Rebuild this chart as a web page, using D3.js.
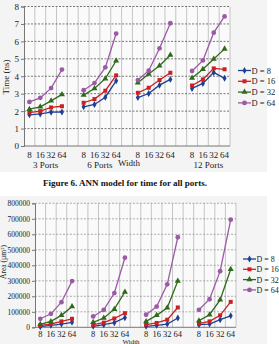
<!DOCTYPE html>
<html>
<head>
<meta charset="utf-8">
<script src="https://cdn.jsdelivr.net/npm/d3@7"></script>
<style>
  body { margin: 0; background: #fff; }
  svg { display: block; }
  svg text { font-family: "Liberation Serif", "Times New Roman", serif; }
</style>
</head>
<body>
<script>
var width = 279,
    height = 344;

// categories
var widths = ["8", "16", "32", "64"];
var ports = ["3 Ports", "6 Ports", "9 Ports", "12 Ports"];
var seriesNames = ["D = 8", "D = 16", "D = 32", "D = 64"];
var timeTicks = [0, 1, 2, 3, 4, 5, 6, 7, 8];
var areaTicks = [0, 100000, 200000, 300000, 400000, 500000, 600000, 700000, 800000];

// time (ns), 4 groups x 4 widths each
var timeD8  = [1.79, 1.84, 1.94, 1.95,  2.25, 2.38, 2.80, 3.74,  2.78, 3.01, 3.49, 3.82,  3.30, 3.59, 4.22, 3.88];
var timeD16 = [1.92, 2.00, 2.21, 2.28,  2.48, 2.69, 3.17, 4.05,  3.05, 3.34, 3.78, 4.20,  3.47, 3.82, 4.45, 4.40];
var timeD32 = [2.11, 2.25, 2.59, 2.96,  2.92, 3.30, 3.86, 4.89,  3.63, 4.13, 4.60, 5.22,  3.90, 4.40, 4.99, 5.57];
var timeD64 = [2.53, 2.76, 3.32, 4.38,  3.20, 3.61, 4.51, 6.45,  3.78, 4.32, 5.60, 7.04,  4.30, 4.91, 6.50, 7.43];

// area (um^2)
var areaD8  = [4000, 13000, 21000, 32000,  6000, 17000, 30000, 62000,  6000, 13000, 21000, 60000,  17000, 21000, 49000, 74000];
var areaD16 = [13000, 21000, 38000, 55000,  17000, 30000, 57000, 91000,  17000, 28000, 49000, 128000,  23000, 38000, 77000, 164000];
var areaD32 = [19000, 38000, 77000, 134000,  32000, 60000, 117000, 228000,  38000, 77000, 126000, 298000,  43000, 81000, 177000, 374000];
var areaD64 = [55000, 87000, 162000, 298000,  70000, 113000, 221000, 449000,  81000, 134000, 277000, 581000,  113000, 181000, 362000, 694000];

var colors = ["#1d3f95", "#cc1f1f", "#2f6a1c", "#9c5aa6"];
var symbols = [d3.symbolDiamond, d3.symbolSquare, d3.symbolTriangle, d3.symbolCircle];
var symSizes = [14, 16, 16, 18];

var svg = d3.select("body").append("svg")
    .attr("width", width)
    .attr("height", height);

// category keys: 4 widths per group, an empty slot between groups
var keys = [];
ports.forEach(function(p, g) {
  if (g > 0) keys.push("gap" + g);
  widths.forEach(function(w, i) { keys.push(g + "-" + i); });
});

function drawChart(opt) {
  var g = svg.append("g");

  // chart area background
  g.append("rect")
    .attr("x", 0).attr("y", opt.bgTop)
    .attr("width", 267).attr("height", opt.bgBottom - opt.bgTop)
    .attr("fill", "#f4f4f4");

  var x = d3.scaleBand().domain(keys).range([opt.left, opt.right]).padding(0);
  var y = d3.scaleLinear().domain([0, opt.max]).range([opt.bottom, opt.top]);

  g.append("rect")
    .attr("x", opt.left).attr("y", opt.top)
    .attr("width", opt.right - opt.left).attr("height", opt.bottom - opt.top)
    .attr("fill", "#fafafa");

  // vertical grid at category boundaries
  var edges = keys.map(function(k) { return x(k); }).concat([opt.right]);
  g.selectAll(".vg").data(edges.slice(1)).enter().append("line")
    .attr("x1", function(d) { return d; }).attr("x2", function(d) { return d; })
    .attr("y1", opt.top).attr("y2", opt.bottom)
    .attr("stroke", "#b8b8b8").attr("stroke-width", 0.8);

  // horizontal dashed grid
  g.selectAll(".hg").data(opt.ticks.slice(1)).enter().append("line")
    .attr("x1", opt.left).attr("x2", opt.right)
    .attr("y1", function(d) { return y(d); }).attr("y2", function(d) { return y(d); })
    .attr("stroke", opt.gridColor).attr("stroke-width", 0.8)
    .attr("stroke-dasharray", "2,1.5");

  // y axis
  var yAxis = d3.axisLeft(y).tickValues(opt.ticks).tickSize(3).tickPadding(2)
    .tickFormat(d3.format("d"));
  var ya = g.append("g").attr("transform", "translate(" + opt.left + ",0)").call(yAxis);
  ya.attr("font-family", null);
  ya.select(".domain").attr("stroke", "#777");
  ya.selectAll(".tick line").attr("stroke", "#777");
  ya.selectAll("text").attr("font-size", opt.yFont).attr("fill", "#222");

  g.append("line")
    .attr("x1", opt.left).attr("x2", opt.right)
    .attr("y1", opt.bottom).attr("y2", opt.bottom)
    .attr("stroke", "#777");

  // x tick labels
  keys.filter(function(k) { return k.indexOf("gap") < 0; }).forEach(function(k) {
    var i = +k.split("-")[1];
    g.append("text")
      .attr("x", x(k) + x.bandwidth() / 2)
      .attr("y", opt.tickY)
      .attr("text-anchor", "middle")
      .attr("font-size", opt.xFont).attr("fill", "#222")
      .text(widths[i]);
  });

  // lines and markers, one broken line per group
  opt.series.forEach(function(vals, s) {
    ports.forEach(function(p, gi) {
      var pts = widths.map(function(w, i) {
        var k = gi + "-" + i;
        return [x(k) + x.bandwidth() / 2, y(vals[gi * 4 + i])];
      });
      g.append("path")
        .attr("d", d3.line()(pts))
        .attr("fill", "none")
        .attr("stroke", colors[s]).attr("stroke-width", 1.3);
      pts.forEach(function(pt) {
        g.append("path")
          .attr("d", d3.symbol().type(symbols[s]).size(symSizes[s]))
          .attr("transform", "translate(" + pt[0] + "," + pt[1] + ")")
          .attr("fill", colors[s]);
      });
    });
  });

  // legend
  seriesNames.forEach(function(name, s) {
    var ly = opt.legendY + s * opt.legendStep;
    g.append("line")
      .attr("x1", opt.legendX).attr("x2", opt.legendX + 13)
      .attr("y1", ly).attr("y2", ly)
      .attr("stroke", colors[s]).attr("stroke-width", 1.3);
    g.append("path")
      .attr("d", d3.symbol().type(symbols[s]).size(symSizes[s]))
      .attr("transform", "translate(" + (opt.legendX + 6.5) + "," + ly + ")")
      .attr("fill", colors[s]);
    g.append("text")
      .attr("x", opt.legendX + 13.5).attr("y", ly + 3)
      .attr("font-size", opt.legendFont).attr("fill", "#222")
      .text(name);
  });

  // y title
  g.append("text")
    .attr("transform", "translate(" + opt.yTitleX + "," + opt.yTitleY + ") rotate(-90)")
    .attr("text-anchor", "middle")
    .attr("font-size", opt.yFont).attr("fill", "#222")
    .text(opt.yTitle);

  return x;
}

// top chart: time
var xTop = drawChart({
  left: 24, right: 230, top: 6.5, bottom: 146, max: 8,
  bgTop: 0, bgBottom: 172,
  ticks: timeTicks, series: [timeD8, timeD16, timeD32, timeD64],
  gridColor: "#555", yFont: 9, xFont: 9, tickY: 157.5,
  legendX: 238, legendY: 70.5, legendStep: 10.8, legendFont: 8.5,
  yTitle: "Time (ns)", yTitleX: 9, yTitleY: 77
});

// group labels under the top chart
ports.forEach(function(p, gi) {
  if (gi == 2) return; // hidden behind axis title
  var a = xTop(gi + "-0"), b = xTop(gi + "-3") + xTop.bandwidth();
  svg.append("text")
    .attr("x", (a + b) / 2).attr("y", 168)
    .attr("text-anchor", "middle")
    .attr("font-size", 9).attr("fill", "#222")
    .text(p);
});
svg.append("text")
  .attr("x", 129).attr("y", 166)
  .attr("text-anchor", "middle")
  .attr("font-size", 9).attr("fill", "#222")
  .text("Width");

svg.append("text")
  .attr("x", 125).attr("y", 186)
  .attr("text-anchor", "middle")
  .attr("font-size", 9).attr("font-weight", "bold").attr("fill", "#111")
  .text("Figure 6. ANN model for time for all ports.");

// bottom chart: area
drawChart({
  left: 35, right: 236, top: 203.3, bottom: 327.3, max: 800000,
  bgTop: 196, bgBottom: 344,
  ticks: areaTicks, series: [areaD8, areaD16, areaD32, areaD64],
  gridColor: "#999", yFont: 7.5, xFont: 8.5, tickY: 337,
  legendX: 243, legendY: 259, legendStep: 10.3, legendFont: 8,
  yTitle: "Area (µm²)", yTitleX: 6, yTitleY: 262
});

svg.append("text")
  .attr("x", 131).attr("y", 343.5)
  .attr("text-anchor", "middle")
  .attr("font-size", 7).attr("fill", "#222")
  .text("Width");
</script>
</body>
</html>
